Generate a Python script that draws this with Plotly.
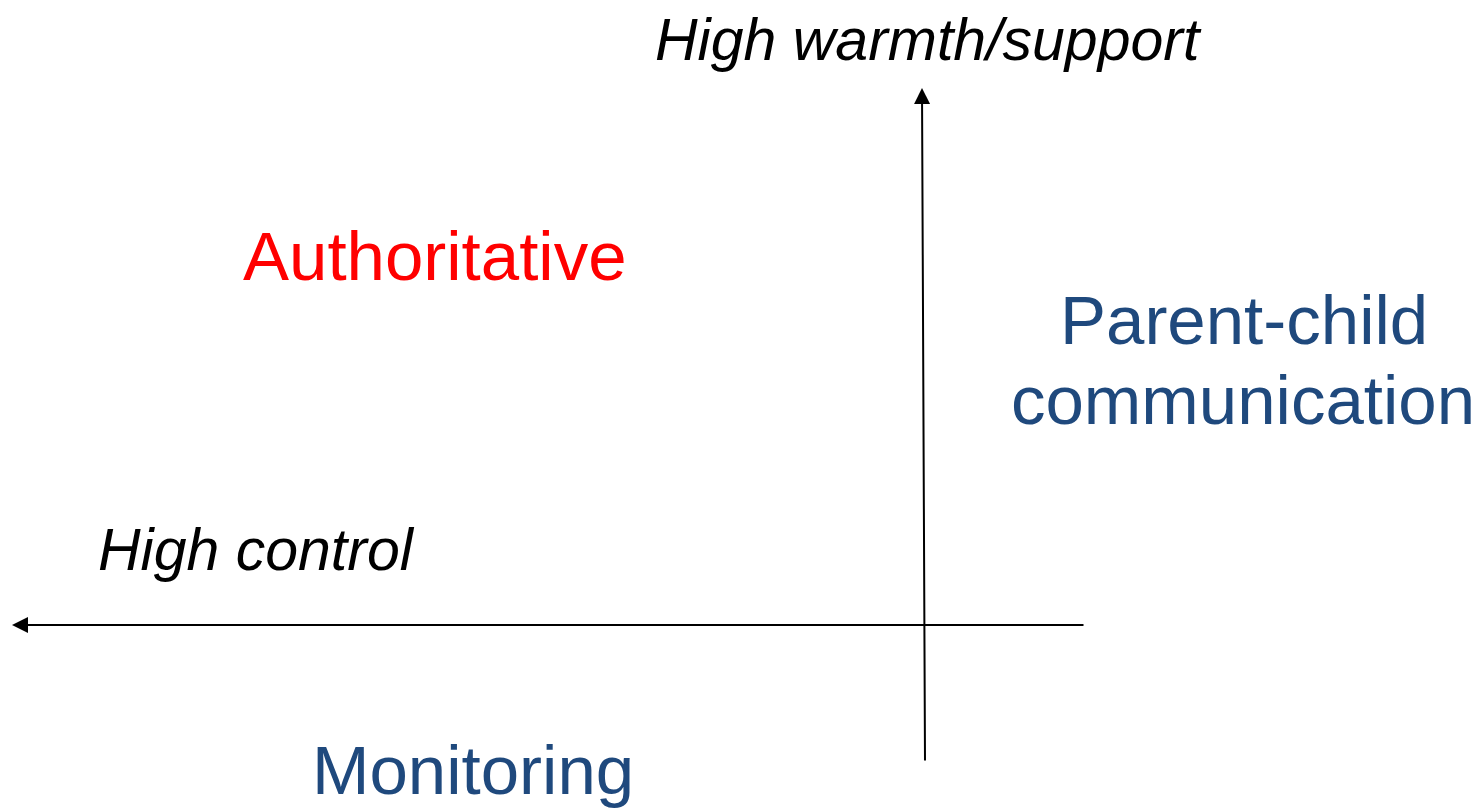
import plotly.graph_objects as go

# Diagram coordinates (canvas units, y grows downward)
W, H = 1480, 808
OFF = 8  # page body margin

# Axes of the diagram: [tail_x, tail_y, tip_x, tip_y]
axis_names = ["warmth", "control"]
axis_tail_x = [925, 1085]
axis_tail_y = [762, 625]
axis_tip_x = [922, 12]
axis_tip_y = [88, 625]

# Axis captions (italic, black)
caption_text = ["High warmth/support", "High control"]
caption_x = [928, 256]
caption_y = [40, 550]

# Quadrant labels
label_text = ["Authoritative", "Parent-child", "communication", "Monitoring"]
label_x = [435, 1244, 1243, 473]
label_y = [256, 320, 400, 770]
label_color = ["#FF0000", "#1F497D", "#1F497D", "#1F497D"]

FONT = "Arial, Liberation Sans, sans-serif"

fig = go.Figure()
fig.add_trace(go.Scatter(x=[OFF, W + OFF], y=[OFF, H + OFF], mode="markers",
                         marker=dict(opacity=0), hoverinfo="skip", showlegend=False))

for tx, ty, hx, hy in zip(axis_tail_x, axis_tail_y, axis_tip_x, axis_tip_y):
    fig.add_annotation(x=hx, y=hy, ax=tx, ay=ty, xref="x", yref="y",
                       axref="x", ayref="y", text="", showarrow=True,
                       arrowhead=2, arrowsize=1.6, arrowwidth=2,
                       arrowcolor="black", standoff=0, startstandoff=0)

for t, x, y in zip(caption_text, caption_x, caption_y):
    fig.add_annotation(x=x, y=y, xref="x", yref="y", text=t, showarrow=False,
                       xanchor="center", yanchor="middle",
                       font=dict(family=FONT, size=59, color="black", style="italic"))

for t, x, y, c in zip(label_text, label_x, label_y, label_color):
    fig.add_annotation(x=x, y=y, xref="x", yref="y", text=t, showarrow=False,
                       xanchor="center", yanchor="middle",
                       font=dict(family=FONT, size=69, color=c))

fig.update_xaxes(range=[OFF, W + OFF], visible=False, fixedrange=True)
fig.update_yaxes(range=[H + OFF, OFF], visible=False, fixedrange=True)
fig.update_layout(width=W, height=H, margin=dict(l=0, r=0, t=0, b=0),
                  plot_bgcolor="white", paper_bgcolor="white")

fig.write_html("out.html")
